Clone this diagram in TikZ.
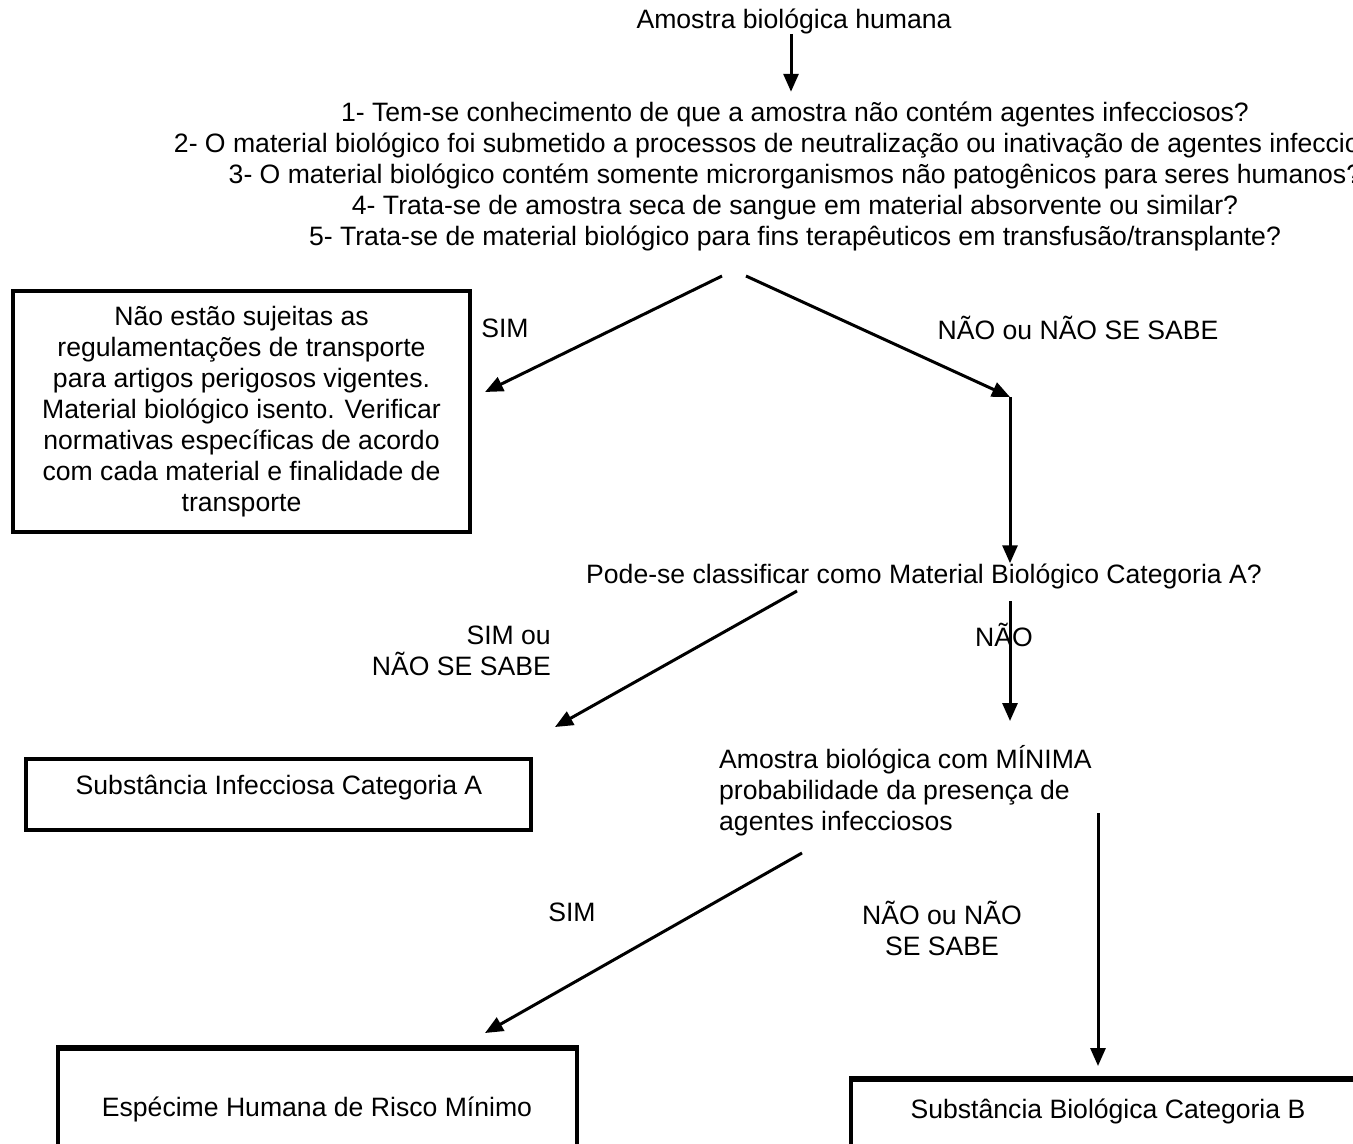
\documentclass[tikz,border=0pt]{standalone}
\usepackage{fontspec}
\setmainfont{Liberation Sans}
\usetikzlibrary{arrows.meta}
\begin{document}
\begin{tikzpicture}[x=1pt,y=-1pt,
  txt/.style={font=\fontsize{26.6}{31}\selectfont, inner sep=0pt, align=center, text=black},
  arr/.style={line width=3pt, -{Triangle[length=18pt,width=15pt]}},
  boxst/.style={draw, line width=3.2pt, inner sep=0pt},
  topbox/.style={line width=4.2pt}]
\useasboundingbox (0,0) rectangle (1353,1144);

% texts
\node[txt] (top) at (794,21) {Amostra biológica humana};
\node[txt, anchor=north] (q) at (795,102) {1- Tem-se conhecimento de que a amostra não contém agentes infecciosos?\\
2- O material biológico foi submetido a processos de neutralização ou inativação de agentes infecciosos?\\
3- O material biológico contém somente microrganismos não patogênicos para seres humanos?\\
4- Trata-se de amostra seca de sangue em material absorvente ou similar?\\
5- Trata-se de material biológico para fins terapêuticos em transfusão/transplante?};

\node[boxst, txt, minimum width=457pt, minimum height=241pt] (isento) at (241.5,411.5)
  {Não estão sujeitas as\\regulamentações de transporte\\para artigos perigosos vigentes.\\Material biológico isento. Verificar\\normativas específicas de acordo\\com cada material e finalidade de\\transporte};

\node[txt] (sim1) at (505,328) {SIM};
\node[txt] (nao1) at (1078,328) {NÃO ou NÃO SE SABE};

\node[txt] (pode) at (924,576) {Pode-se classificar como Material Biológico Categoria A?};

\node[txt, align=right, anchor=east] (sim2) at (551,651) {SIM ou\\NÃO SE SABE};
\node[txt] (nao2) at (1004,635) {NÃO};

\node[boxst, txt, minimum width=505pt, minimum height=71pt] (catA) at (278.5,794.5) {};
\node[txt] (catAt) at (279,788) {Substância Infecciosa Categoria A};

\node[txt, align=left, anchor=west] (minima) at (719,791) {Amostra biológica com MÍNIMA\\probabilidade da presença de\\agentes infecciosos};

\node[txt] (sim3) at (572,912) {SIM};
\node[txt] (nao3) at (942,928) {NÃO ou NÃO\\SE SABE};

\node[draw, line width=3.2pt, minimum width=519pt, minimum height=140pt, inner sep=0pt] (esp) at (317.5,1119) {};
\node[txt] (espt) at (317,1109) {Espécime Humana de Risco Mínimo};
\draw[topbox] (esp.north west) -- (esp.north east);

\node[draw, line width=3.2pt, minimum width=540pt, minimum height=140pt, inner sep=0pt] (catB) at (1121,1150) {};
\node[txt] (catBt) at (1108,1111) {Substância Biológica Categoria B};
\draw[topbox] (catB.north west) -- (catB.north east);

% connector points
\coordinate (sL) at (722,276);
\coordinate (tL) at (485,392);
\coordinate (sR) at (746,276);
\coordinate (bend) at (1010,397);
\coordinate (podeL) at (797,591);
\coordinate (podeTip) at (555,727);
\coordinate (naoS) at (1010,601);
\coordinate (naoT) at (1010,721);
\coordinate (minL) at (802,853);
\coordinate (minLt) at (485,1033);
\coordinate (minR) at (1098,813);
\coordinate (minRt) at (1098,1066);

% connectors
\draw[arr] ([xshift=-3pt]top.south) -- ++(0,58);
\draw[arr] (sL) -- (tL);
\draw[arr] (sR) -- (bend);
\draw[arr] (bend) -- (bend |- pode.north);
\draw[arr] (podeL) -- (podeTip);
\draw[arr] (naoS) -- (naoT);
\draw[arr] (minL) -- (minLt);
\draw[arr] (minR) -- (minRt);
\end{tikzpicture}
\end{document}
